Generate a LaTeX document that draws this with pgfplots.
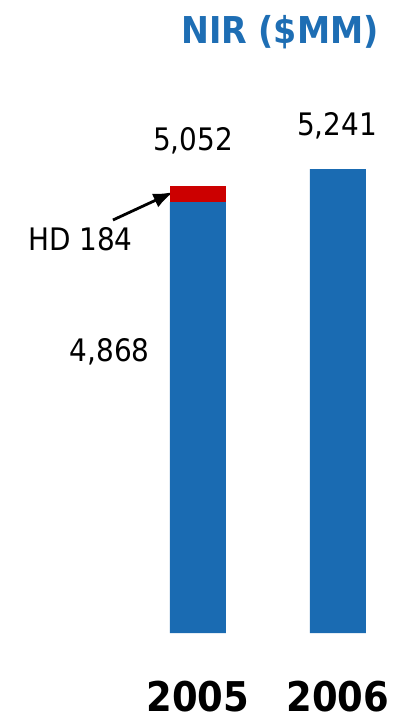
\documentclass[border=0pt]{standalone}
\usepackage{pgfplots}
\pgfplotsset{compat=1.18}
\usepackage{fontspec}
\setmainfont{DejaVu Sans Condensed}
\usetikzlibrary{arrows.meta}
\definecolor{barblue}{RGB}{26,107,178}
\definecolor{hdred}{RGB}{204,0,0}
\definecolor{titleblue}{RGB}{30,110,180}
\begin{document}
\begin{tikzpicture}[x=1pt,y=1pt]
\path (0,0) rectangle (400,720);
\begin{axis}[
  at={(0pt,87pt)}, anchor=south west,
  scale only axis, width=400pt, height=633pt,
  xmin=-1.414, xmax=1.443, ymin=0, ymax=7152,
  ybar stacked, bar width=0.4,
  axis line style={draw=none},
  ymajorticks=false,
  xtick={0,1}, xticklabels={2005,2006},
  major tick length=0pt,
  xticklabel style={anchor=base, inner sep=0pt, yshift=-78pt, font=\fontsize{41}{48}\selectfont\bfseries},
  clip=false,
]
\addplot[fill=barblue, draw=none] coordinates {(0,4868) (1,5241)};
\addplot[fill=hdred, draw=none] coordinates {(0,184) (1,0)};
\node[anchor=base, font=\fontsize{31}{36}\selectfont] at (axis cs:-0.036,5458) {5,052};
\node[anchor=base, font=\fontsize{31}{36}\selectfont] at (axis cs:0.993,5627) {5,241};
\node[anchor=base west, inner sep=0pt, font=\fontsize{31}{36}\selectfont] at (axis cs:-1.214,4328) {HD 184};
\node[anchor=base east, inner sep=0pt, font=\fontsize{31}{36}\selectfont] at (axis cs:-0.343,3073) {4,868};
\draw[line width=2.8pt, -{Latex[length=20pt,width=15pt]}] (axis cs:-0.607,4667) -- (axis cs:-0.176,4983);
\end{axis}
\node[anchor=base, text=titleblue, font=\fontsize{37}{44}\selectfont\bfseries] at (280,677) {NIR (\$MM)};
\end{tikzpicture}
\end{document}
